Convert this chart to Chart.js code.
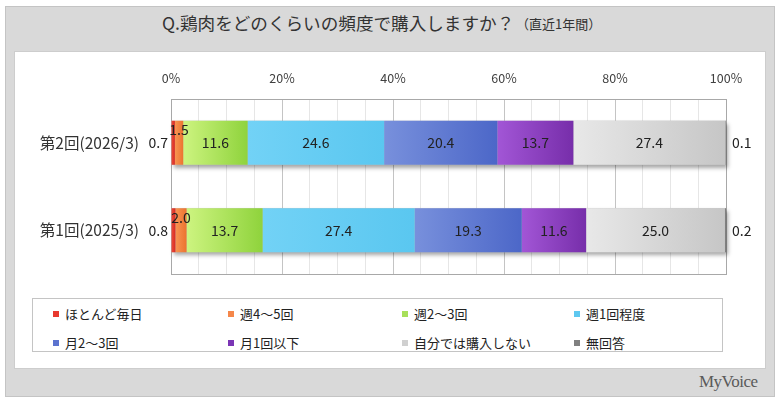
<!DOCTYPE html>
<html>
<head>
<meta charset="utf-8">
<script src="https://cdn.jsdelivr.net/npm/chart.js@4.4.1/dist/chart.umd.min.js"></script>
<style>
body{margin:0;width:780px;height:405px;background:#fff;overflow:hidden;font-family:"Noto Sans CJK JP",sans-serif;}
#outer{position:absolute;left:5px;top:6px;width:768px;height:389px;background:#d9d9d9;border:1px solid #c4c4c4;}
#inner{position:absolute;left:14px;top:51px;width:750px;height:316px;background:#fff;border:1px solid #cdcdcd;}
#title{position:absolute;left:162px;top:12px;font-size:17.6px;line-height:22px;color:#333;white-space:nowrap;}
#subtitle{position:absolute;left:516px;top:15px;font-size:13px;line-height:18px;color:#333;white-space:nowrap;}
#legend{position:absolute;left:32px;top:298px;width:689px;height:52px;background:#fff;border:1px solid #c4c4c4;}
.item{position:absolute;font-size:13px;line-height:18px;color:#222;white-space:nowrap;}
.mark{position:absolute;width:6px;height:6px;left:0;top:6px;}
#logo{position:absolute;left:699px;top:372px;font-family:"Liberation Serif",serif;font-size:17px;color:#5a5a5a;letter-spacing:-0.5px;}
canvas{position:absolute;left:0;top:0;z-index:5;}
</style>
</head>
<body>
<div id="outer"></div>
<div id="inner"></div>
<div id="title">Q.鶏肉をどのくらいの頻度で購入しますか？</div>
<div id="subtitle">（直近1年間）</div>
<div id="legend"></div>
<div id="logo">MyVoice</div>
<canvas id="canvas" width="780" height="405"></canvas>
<script>
// categories (top to bottom)
var categories = ['第2回(2026/3)', '第1回(2025/3)'];
var seriesNames = ['ほとんど毎日', '週4～5回', '週2～3回', '週1回程度', '月2～3回', '月1回以下', '自分では購入しない', '無回答'];

// % per series, [第2回, 第1回]
var everyDay   = [0.7, 0.8];
var week4to5   = [1.5, 2.0];
var week2to3   = [11.6, 13.7];
var weekOnce   = [24.6, 27.4];
var month2to3  = [20.4, 19.3];
var monthOnce  = [13.7, 11.6];
var notBuying  = [27.4, 25.0];
var noAnswer   = [0.1, 0.2];
var seriesValues = [everyDay, week4to5, week2to3, weekOnce, month2to3, monthOnce, notBuying, noAnswer];

var xTicks = [0, 20, 40, 60, 80, 100];

// gradient light -> dark for each segment, plus legend colour
var colorsLight = ['#f0503f', '#f89552', '#cdf480', '#72d2f6', '#7890dc', '#a256d6', '#e8e8e8', '#8a8a8a'];
var colorsDark  = ['#d62b22', '#ec7330', '#8fd33c', '#5ac7f0', '#4c67c8', '#772eaa', '#c6c6c6', '#777777'];
var legendColors = ['#e8392f', '#f5874a', '#a8e05a', '#5ec8f0', '#5b73cf', '#7b35b5', '#d0d0d0', '#808080'];

// html legend, 4 columns
var legendBox = document.getElementById('legend');
var colX = [20, 195, 369, 541];
for (var i = 0; i < seriesNames.length; i++) {
  var it = document.createElement('div');
  it.className = 'item';
  it.style.left = colX[i % 4] + 'px';
  it.style.top = (6 + Math.floor(i / 4) * 29) + 'px';
  it.innerHTML = '<span class="mark" style="background:' + legendColors[i] + '"></span>' +
                 '<span style="margin-left:12px">' + seriesNames[i] + '</span>';
  legendBox.appendChild(it);
}

function segColor(ctx) {
  var d = ctx.datasetIndex, i = ctx.dataIndex;
  var chart = ctx.chart;
  var xs = chart.scales.x;
  if (!chart.chartArea || !xs) return colorsDark[d];
  var start = 0;
  for (var j = 0; j < d; j++) start += seriesValues[j][i];
  var x0 = xs.getPixelForValue(start);
  var x1 = xs.getPixelForValue(start + seriesValues[d][i]);
  if (x1 - x0 < 1) return colorsDark[d];
  var g = chart.ctx.createLinearGradient(x0, 0, x1, 0);
  g.addColorStop(0, colorsLight[d]);
  g.addColorStop(1, colorsDark[d]);
  return g;
}

// frame + bar shadow
var framePlugin = {
  id: 'frame',
  beforeDatasetsDraw: function(chart) {
    var c = chart.ctx, a = chart.chartArea;
    c.save();
    c.strokeStyle = '#a8a8a8';
    c.lineWidth = 1;
    c.strokeRect(Math.round(a.left) + 0.5, Math.round(a.top) + 0.5, Math.round(a.right - a.left), Math.round(a.bottom - a.top));
    var first = chart.getDatasetMeta(0).data;
    var last = chart.getDatasetMeta(seriesValues.length - 1).data;
    c.shadowColor = 'rgba(0,0,0,0.35)';
    c.shadowBlur = 4;
    c.shadowOffsetX = 2;
    c.shadowOffsetY = 3;
    c.fillStyle = '#bbbbbb';
    for (var i = 0; i < first.length; i++) {
      var b = first[i], e = last[i];
      c.fillRect(b.base, b.y - b.height / 2, e.x - b.base, b.height);
    }
    c.restore();
  }
};

// value labels and category labels
var labelPlugin = {
  id: 'labels',
  afterDatasetsDraw: function(chart) {
    var c = chart.ctx, a = chart.chartArea;
    c.save();
    c.textBaseline = 'middle';
    var n = seriesValues.length;
    for (var d = 0; d < n; d++) {
      var meta = chart.getDatasetMeta(d);
      for (var i = 0; i < meta.data.length; i++) {
        var el = meta.data[i];
        var v = seriesValues[d][i];
        var txt = v.toFixed(1);
        var cx = (el.x + el.base) / 2;
        c.fillStyle = '#222';
        c.font = '14px "Noto Sans CJK JP", sans-serif';
        if (d === 0) {
          c.textAlign = 'right';
          c.fillText(txt, a.left - 3, el.y);
        } else if (d === n - 1) {
          c.textAlign = 'left';
          c.fillText(txt, a.right + 6, el.y);
        } else if (v < 5) {
          c.textAlign = 'center';
          c.fillText(txt, cx, el.y - el.height / 2 + 9);
        } else {
          c.textAlign = 'center';
          c.fillText(txt, cx, el.y);
        }
      }
    }
    var m0 = chart.getDatasetMeta(0).data;
    c.fillStyle = '#333';
    c.textAlign = 'right';
    c.font = '15.5px "Noto Sans CJK JP", sans-serif';
    for (var k = 0; k < categories.length; k++) {
      c.fillText(categories[k], 139, m0[k].y);
    }
    c.restore();
  }
};

Chart.defaults.font.family = '"Noto Sans CJK JP", sans-serif';

var datasets = seriesNames.map(function(name, d) {
  return {
    label: name,
    data: seriesValues[d],
    backgroundColor: segColor,
    borderWidth: 0,
    barPercentage: 0.503,
    categoryPercentage: 1.0
  };
});

var ctx = document.getElementById('canvas').getContext('2d');
var chart = new Chart(ctx, {
  type: 'bar',
  data: { labels: categories, datasets: datasets },
  options: {
    indexAxis: 'y',
    responsive: false,
    animation: false,
    events: [],
    layout: { padding: { left: 171, right: 54, top: 69, bottom: 131 } },
    plugins: { legend: { display: false }, tooltip: { enabled: false } },
    scales: {
      x: {
        position: 'top',
        stacked: true,
        min: 0,
        max: 100,
        afterFit: function(scale) { scale.height = 30; },
        afterBuildTicks: function(scale) {
          var t = [];
          for (var v = 0; v <= 100; v += 5) t.push({ value: v });
          scale.ticks = t;
        },
        ticks: {
          autoSkip: false,
          maxRotation: 0,
          padding: 13,
          color: '#404040',
          font: { size: 12.5 },
          callback: function(v) { return xTicks.indexOf(v) >= 0 ? v + '%' : ''; }
        },
        grid: {
          drawTicks: false,
          color: function(c) { return c.tick && xTicks.indexOf(c.tick.value) >= 0 ? '#c4c4c4' : '#e6e6e6'; }
        },
        border: { display: false }
      },
      y: {
        stacked: true,
        display: false
      }
    }
  },
  plugins: [framePlugin, labelPlugin]
});
</script>
</body>
</html>
